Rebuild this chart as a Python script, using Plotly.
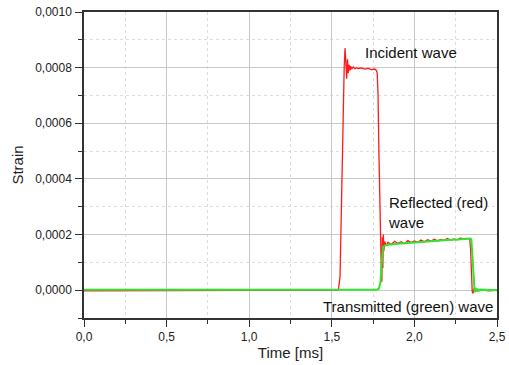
import plotly.graph_objects as go

# Incident / reflected (red) signal
red_t = [0.0, 1.50, 1.54, 1.55, 1.56, 1.57, 1.575, 1.58, 1.585, 1.59, 1.595, 1.60, 1.605, 1.61,
         1.615, 1.62, 1.63, 1.64, 1.65, 1.66, 1.68, 1.70, 1.72, 1.74, 1.76, 1.77, 1.775, 1.78,
         1.785, 1.79, 1.795, 1.80, 1.803, 1.806, 1.809, 1.812, 1.815, 1.82, 1.83,
         1.84, 1.86, 1.88, 1.90, 1.92, 1.94, 1.96, 1.98, 2.00, 2.02, 2.04, 2.06, 2.08, 2.10,
         2.12, 2.14, 2.16, 2.18, 2.20, 2.22, 2.24, 2.26, 2.28, 2.30, 2.32, 2.335,
         2.34, 2.345, 2.35, 2.355, 2.36, 2.365, 2.37, 2.38, 2.40, 2.45, 2.50]
red_y = [-0.000002, -0.000002, 0.0, 0.00005, 0.0003, 0.00065, 0.00080, 0.00087, 0.00082, 0.00076,
         0.00083, 0.00078, 0.00081, 0.00079, 0.000805, 0.000795, 0.000802, 0.000796, 0.000800,
         0.000797, 0.000799, 0.000795, 0.000797, 0.000793, 0.000795, 0.000790, 0.00078, 0.00070,
         0.00050, 0.00030, 0.00015, 0.00006, 0.00003, 0.00019, 0.00008, 0.00020, 0.00014,
         0.000175, 0.000160,
         0.000172, 0.000164, 0.000176, 0.000168, 0.000174, 0.000167, 0.000178, 0.000171,
         0.000177, 0.000172, 0.000180, 0.000174, 0.000181, 0.000176, 0.000183, 0.000177,
         0.000182, 0.000179, 0.000186, 0.000180, 0.000184, 0.000181, 0.000188, 0.000182,
         0.000186, 0.000184,
         0.00015, 0.00006, -0.000005, -0.000012, 0.000006, -0.000006, 0.000002, -0.000003,
         0.000001, -0.000002, 0.0]

# Transmitted (green) signal
green_t = [0.0, 1.77, 1.785, 1.795, 1.80, 1.805, 1.81, 1.82, 1.84, 1.90, 1.96, 2.02, 2.08,
           2.14, 2.20, 2.26, 2.30, 2.34, 2.345, 2.35, 2.355, 2.36, 2.365, 2.37, 2.375, 2.38,
           2.39, 2.40, 2.45, 2.50]
green_y = [0.000002, 0.000002, 0.000005, 0.00003, 0.00008, 0.00013, 0.000155, 0.000160,
           0.000163, 0.000167, 0.000170, 0.000173, 0.000175, 0.000178, 0.000180, 0.000182,
           0.000184, 0.000186, 0.000180, 0.000130, 0.000060, 0.000010, -0.000008, 0.000009,
           -0.000004, 0.000005, -0.000002, 0.000002, 0.000001, 0.0]

x_ticks = [0.0, 0.5, 1.0, 1.5, 2.0, 2.5]
y_ticks = [0.0, 0.0002, 0.0004, 0.0006, 0.0008, 0.0010]

fig = go.Figure()
fig.add_trace(go.Scatter(x=red_t, y=red_y, mode="lines",
                         line=dict(color="#ff1a1a", width=1.3), showlegend=False))
fig.add_trace(go.Scatter(x=green_t, y=green_y, mode="lines",
                         line=dict(color="#2ee62e", width=2), showlegend=False))

font = "Liberation Sans, Arial, sans-serif"
fig.update_layout(
    width=509, height=365,
    margin=dict(l=84, r=12, t=12, b=47),
    paper_bgcolor="white", plot_bgcolor="white",
    separators=", ",
    font=dict(family=font, size=12, color="#222"),
    xaxis=dict(range=[0, 2.5], tickvals=x_ticks, tickformat=".1f", automargin=False,
               showline=True, linecolor="#333", linewidth=1.5, mirror=True,
               ticks="outside", ticklen=7, tickcolor="#333", ticklabelstandoff=0,
               showgrid=True, gridcolor="#c8c8c8", gridwidth=1, zeroline=False,
               minor=dict(dtick=0.25, ticks="outside", ticklen=4, tickcolor="#333",
                          showgrid=True, gridcolor="#dddddd", griddash="dot"),
               title=dict(text="Time [ms]", font=dict(size=15, family=font), standoff=2)),
    yaxis=dict(range=[-0.0001, 0.0010], tickvals=y_ticks, tickformat=".4f", automargin=False,
               showline=True, linecolor="#333", linewidth=1.5, mirror=True,
               ticks="outside", ticklen=7, tickcolor="#333", ticklabelstandoff=1,
               showgrid=True, gridcolor="#c8c8c8", gridwidth=1, zeroline=False,
               minor=dict(dtick=0.0001, ticks="outside", ticklen=4, tickcolor="#333",
                          showgrid=True, gridcolor="#dddddd", griddash="dot"),
               title=dict(text="Strain", font=dict(size=15, family=font), standoff=8)),
    annotations=[
        dict(x=1.69, y=0.000856, text="Incident wave", showarrow=False,
             xanchor="left", yanchor="middle", font=dict(size=15, family=font, color="#111")),
        dict(x=1.83, y=0.000279, text="Reflected (red)<br>wave", showarrow=False, align="left",
             xanchor="left", yanchor="middle", font=dict(size=15, family=font, color="#111")),
        dict(x=2.49, y=-0.00006, text="Transmitted (green) wave", showarrow=False,
             xanchor="right", yanchor="middle", font=dict(size=15, family=font, color="#111")),
    ],
)

fig.write_html("out.html", config={"displayModeBar": False},
               post_script="document.body.style.margin='0';")
